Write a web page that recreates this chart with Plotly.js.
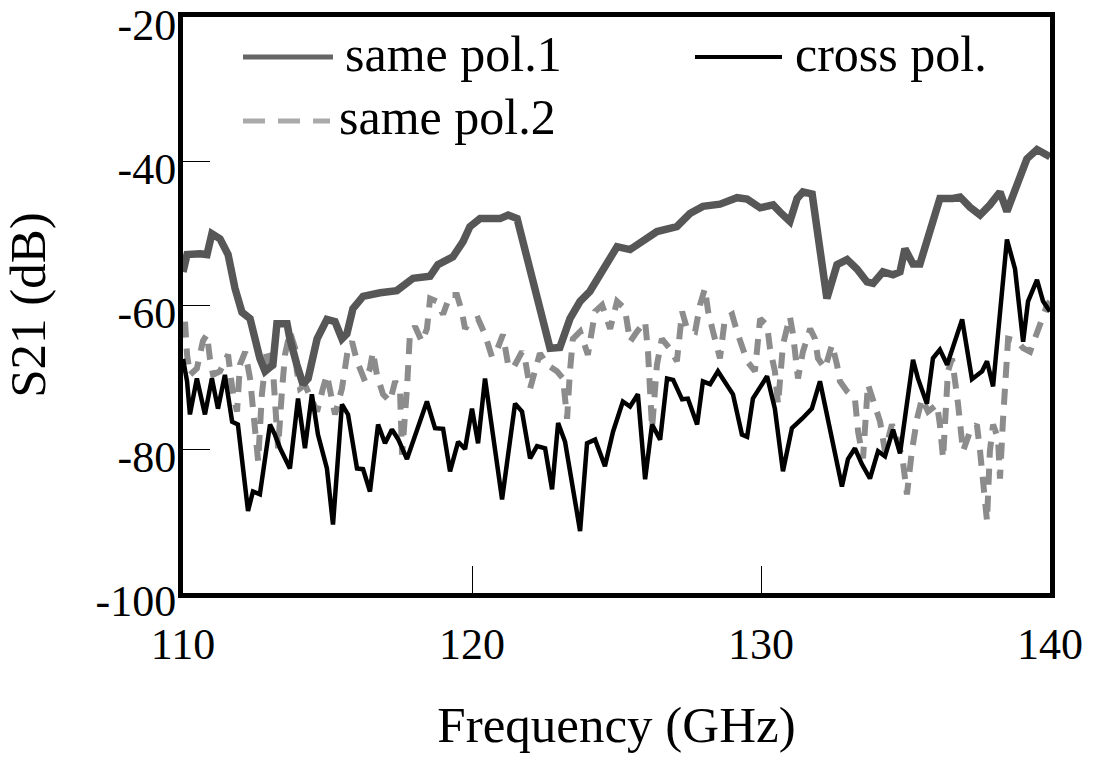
<!DOCTYPE html>
<html>
<head>
<meta charset="utf-8">
<script src="https://cdn.plot.ly/plotly-3.0.1.min.js"></script>
<style>
html,body{margin:0;padding:0;background:#fff;}
#chart{width:1096px;height:758px;}
</style>
</head>
<body>
<div id="chart"></div>
<script>
// ---- data ----
const seriesNames = ["same pol.1", "same pol.2", "cross pol."];

const freqPol1 = [110.00,110.14,110.59,110.83,111.00,111.28,111.56,111.80,112.04,112.32,112.66,112.84,113.11,113.25,113.60,113.70,113.94,114.15,114.33,114.64,114.98,115.26,115.50,115.67,115.88,116.23,116.82,117.40,117.96,118.55,118.82,119.34,119.69,119.93,120.28,120.97,121.25,121.56,122.70,123.04,123.39,123.74,124.08,124.53,125.02,125.47,125.92,126.40,127.09,127.54,127.99,128.58,129.17,129.52,129.97,130.42,130.66,131.00,131.25,131.45,131.77,131.97,132.28,132.63,132.98,133.32,133.67,133.88,134.22,134.57,134.81,134.98,135.26,135.50,135.85,136.19,136.64,136.89,137.23,137.58,137.92,138.27,138.51,138.86,139.20,139.55,140.00];
const s21Pol1 = [-55.4,-53,-52.9,-53,-50.1,-50.8,-53,-57.7,-61,-61.9,-67.4,-69.2,-68.3,-62.6,-62.6,-64.7,-68.3,-71,-70.2,-64.7,-62,-62.3,-64.7,-64,-60.5,-58.8,-58.3,-58,-56.3,-56,-54.4,-53.3,-51.2,-49.1,-48,-48,-47.5,-48,-66,-65.9,-61.9,-59.5,-58.1,-55,-51.9,-52.3,-51,-49.8,-49.1,-47.3,-46.3,-46,-45.1,-45.3,-46.5,-46.1,-47.1,-48.4,-45.2,-44.3,-44.6,-49.8,-59.1,-54.4,-53.7,-55,-56.8,-57,-55.4,-55.8,-55.4,-52.2,-54.3,-54.3,-49.4,-45.2,-45.2,-45,-46.4,-47.5,-46.1,-44.3,-47,-42.9,-39.7,-38.4,-39.4];

const freqPol2 = [110.07,110.14,110.24,110.48,110.69,110.83,110.93,111.04,111.28,111.56,111.73,111.87,111.97,112.15,112.32,112.49,112.60,112.73,112.91,113.11,113.29,113.43,113.53,113.70,113.88,113.94,114.05,114.22,114.46,114.64,114.84,114.98,115.26,115.50,115.71,115.85,116.02,116.30,116.47,116.57,116.71,116.92,117.16,117.34,117.51,117.58,117.75,117.85,118.03,118.27,118.44,118.55,118.79,119.00,119.24,119.48,119.65,119.76,119.93,120.21,120.45,120.69,120.87,121.07,121.25,121.42,121.73,121.83,122.01,122.18,122.35,122.60,122.94,123.15,123.29,123.39,123.49,123.74,124.01,124.26,124.50,124.78,125.02,125.29,125.47,125.71,125.99,126.09,126.23,126.40,126.57,126.85,127.09,127.27,127.44,127.72,127.89,128.06,128.17,128.34,128.58,128.75,129.00,129.17,129.34,129.52,129.79,129.97,130.21,130.31,130.48,130.59,130.76,131.00,131.11,131.28,131.45,131.70,131.87,131.97,132.21,132.46,132.63,132.73,132.98,133.25,133.36,133.53,133.70,133.94,134.12,134.29,134.53,134.74,134.91,135.05,135.22,135.40,135.57,135.78,136.09,136.19,136.30,136.47,136.61,136.82,136.99,137.23,137.47,137.58,137.68,137.82,137.92,138.03,138.20,138.27,138.37,138.51,138.55,138.86,139.07,139.31,139.55,139.90,140.00];
const s21Pol2 = [-62.3,-66.9,-69.7,-68.8,-65,-64.1,-67.4,-69.7,-69.2,-66.9,-72.4,-74.8,-68.3,-66.5,-70.2,-76.2,-81.7,-72.4,-66,-68.8,-79.9,-71.6,-66.9,-63.7,-66,-69.2,-71.6,-71.1,-73.4,-74.8,-71.6,-69.7,-75.2,-71.6,-66,-65.1,-67.8,-70.6,-68.8,-66.5,-69.7,-72.4,-73.4,-70.6,-72,-80.8,-71.6,-64.1,-63,-65.1,-63.3,-59.1,-59.5,-61.3,-58.6,-58.6,-60.9,-63.3,-62.3,-61.9,-64.1,-67.2,-66.2,-64.1,-68.3,-68.8,-66.5,-67.4,-71.6,-69.2,-66.7,-68.3,-69.2,-70.2,-75.8,-69.2,-64.7,-63.7,-66.9,-60.9,-60,-63.3,-59.5,-60.5,-65.1,-63.7,-62.3,-66.5,-77.1,-68.3,-64.7,-66.1,-67.8,-60.9,-63.3,-63.7,-60,-57.7,-60.9,-63.7,-67.4,-61.9,-61.3,-63.7,-66,-67.8,-69.2,-61.9,-62.8,-66,-69.2,-73.8,-65.5,-61.6,-64.1,-70.2,-66.5,-63.3,-64.7,-67.4,-68.8,-65.5,-68.3,-70.6,-72,-73,-77.6,-81.3,-71,-74.4,-76.2,-80.3,-76.6,-79,-81.7,-86.3,-80.3,-75.8,-73,-74.8,-73.8,-76.6,-81.3,-69.2,-67.4,-73.8,-80.3,-77.6,-76.6,-80.3,-84.5,-90,-80.3,-76.6,-78.5,-84.1,-76.2,-69.2,-64.7,-65,-66,-66.5,-63.7,-60,-59.5];

const freqCross = [110.00,110.14,110.24,110.48,110.76,111.00,111.21,111.45,111.70,111.90,112.25,112.42,112.66,113.01,113.18,113.36,113.70,113.98,114.22,114.46,114.67,114.98,115.19,115.50,115.71,116.02,116.23,116.47,116.75,116.99,117.23,117.44,117.75,118.44,118.72,119.00,119.24,119.52,119.76,120.00,120.21,120.45,121.04,121.49,121.73,122.01,122.25,122.53,122.77,122.98,123.22,123.74,123.98,124.26,124.60,124.88,125.22,125.47,125.74,125.99,126.23,126.51,126.75,126.96,127.27,127.47,127.79,127.99,128.24,128.51,129.03,129.34,129.52,129.72,130.21,130.48,130.76,131.07,131.42,131.76,132.04,132.39,132.80,133.01,133.25,133.49,133.77,134.05,134.29,134.57,134.81,135.26,135.43,135.74,135.95,136.19,136.44,136.96,137.30,137.65,137.82,138.03,138.51,138.79,139.07,139.24,139.55,139.76,140.00];
const s21Cross = [-67.5,-70.6,-75.2,-70.2,-75.2,-70.2,-74.4,-69.7,-76.2,-76.6,-88.6,-85.9,-86.3,-76.6,-78,-79.9,-82.7,-73,-79.9,-72.4,-78,-82.7,-90.5,-73.8,-75.2,-82.7,-82.8,-85.9,-76.6,-79.2,-77.3,-78.6,-81.4,-73.4,-77.1,-77.2,-83.1,-79,-80,-74.4,-79.2,-70.2,-87,-73.7,-74.8,-81.3,-79.6,-79.9,-85.6,-76.4,-79,-91.4,-79.2,-78.7,-82.4,-77.6,-73.4,-74.1,-72.4,-84.2,-76.6,-78.7,-70.2,-70.4,-73.1,-73,-76.6,-70.6,-71,-69.2,-72.4,-78,-78.3,-73,-69.9,-74.4,-83.1,-77.1,-75.8,-74.4,-70.6,-77.6,-85.2,-81.4,-79.9,-82.1,-84.1,-80.3,-81,-77.3,-80.6,-67.6,-70.2,-73.7,-67.4,-66.2,-68.3,-62,-70.3,-69.2,-67.8,-71.3,-50.9,-55,-65.1,-59.5,-56.5,-59.5,-60.9];

const xTickVals = [110, 120, 130, 140];
const xTickText = ["110", "120", "130", "140"];
const yTickVals = [-100, -80, -60, -40, -20];
const yTickText = ["-100", "-80", "-60", "-40", "-20"];

// ---- styles ----
const FONT = "Liberation Serif, 'Times New Roman', Times, serif";
const C1 = "#575757", C2 = "#8c8c8c", C3 = "#000000";

const traces = [
  {x: freqPol2, y: s21Pol2, name: seriesNames[1], mode: "lines",
   line: {color: C2, width: 6, dash: "16px,11px"}},
  {x: freqCross, y: s21Cross, name: seriesNames[2], mode: "lines",
   line: {color: C3, width: 4.5}},
  {x: freqPol1, y: s21Pol1, name: seriesNames[0], mode: "lines",
   line: {color: C1, width: 7.5}}
];

// legend drawn as shapes + text (paper coords: plot area L..R x T..B px)
const L = 183, R = 1050, T = 17, B = 593;
const px = v => (v - L) / (R - L);
const py = v => (B - v) / (B - T);

const shapes = [
  {type: "line", xref: "paper", yref: "paper", x0: px(243), x1: px(333), y0: py(57), y1: py(57),
   line: {color: "#666666", width: 5}},
  {type: "line", xref: "paper", yref: "paper", x0: px(695), x1: px(782), y0: py(57), y1: py(57),
   line: {color: "#000000", width: 4}},
  {type: "line", xref: "paper", yref: "paper", x0: px(243), x1: px(330), y0: py(121), y1: py(121),
   line: {color: "#aaaaaa", width: 5, dash: "22px,13px"}}
];
const annotations = [
  {xref: "paper", yref: "paper", x: px(343), y: py(54), text: seriesNames[0], showarrow: false,
   xanchor: "left", yanchor: "middle", font: {family: FONT, size: 50, color: "#000"}},
  {xref: "paper", yref: "paper", x: px(793), y: py(54), text: seriesNames[2], showarrow: false,
   xanchor: "left", yanchor: "middle", font: {family: FONT, size: 50, color: "#000"}},
  {xref: "paper", yref: "paper", x: px(337), y: py(117), text: seriesNames[1], showarrow: false,
   xanchor: "left", yanchor: "middle", font: {family: FONT, size: 50, color: "#000"}}
];

const layout = {
  width: 1096, height: 758,
  margin: {l: L, r: 1096 - R, t: T, b: 758 - B, pad: 0},
  paper_bgcolor: "#fff", plot_bgcolor: "#fff",
  showlegend: false,
  font: {family: FONT, color: "#000"},
  xaxis: {
    range: [110, 140], tickvals: xTickVals, ticktext: xTickText,
    ticks: "inside", ticklen: 27, tickwidth: 1, tickcolor: "#000",
    showline: true, mirror: true, linewidth: 5, linecolor: "#000",
    showgrid: false, zeroline: false,
    tickfont: {family: FONT, size: 44, color: "#000"},
    ticklabelstandoff: 8, ticklabeloverflow: "allow",
    title: {text: "Frequency (GHz)", font: {family: FONT, size: 51, color: "#000"}, standoff: 40}
  },
  yaxis: {
    range: [-100, -20], tickvals: yTickVals, ticktext: yTickText,
    ticks: "inside", ticklen: 27, tickwidth: 1, tickcolor: "#000",
    showline: true, mirror: true, linewidth: 5, linecolor: "#000",
    showgrid: false, zeroline: false,
    tickfont: {family: FONT, size: 44, color: "#000"},
    ticklabelstandoff: -7, ticklabelshift: 8, ticklabeloverflow: "allow",
    title: {text: "S21 (dB)", font: {family: FONT, size: 51, color: "#000"}, standoff: 35}
  },
  shapes: shapes,
  annotations: annotations
};

Plotly.newPlot("chart", traces, layout, {displayModeBar: false, staticPlot: true});
</script>
</body>
</html>
